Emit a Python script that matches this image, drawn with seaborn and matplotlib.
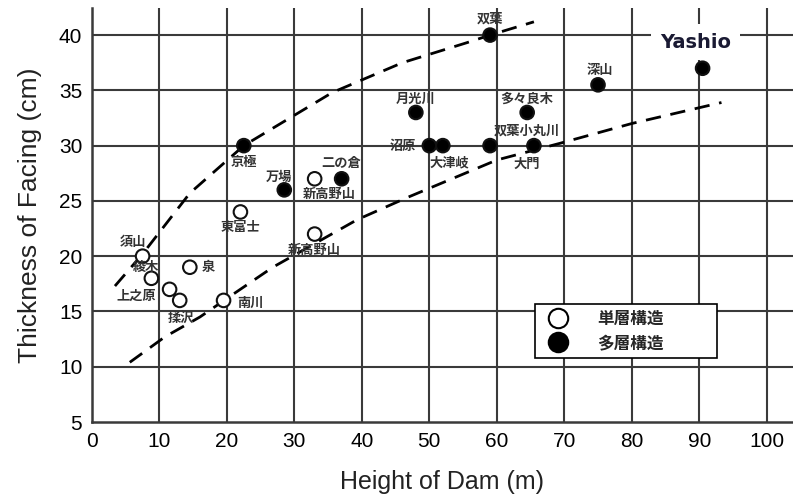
import matplotlib
matplotlib.use("Agg")
import matplotlib.pyplot as plt
import seaborn as sns
import pandas as pd
from matplotlib.lines import Line2D

# ---------------- data ----------------
single_names = ['新高野山', '東富士', '新高野山', '須山', '綾木', '泉', '上之原', '揉沢', '南川']
single_height = [33, 22, 33, 7.5, 8.8, 14.5, 11.5, 13, 19.5]
single_thick = [27, 24, 22, 20, 18, 19, 17, 16, 16]

multi_names = ['双葉', 'Yashio', '深山', '月光川', '多々良木', '沼原', '大津岐', '双葉小丸川',
               '大門', '京極', '万場', '二の倉']
multi_height = [59, 90.5, 75, 48, 64.5, 50, 52, 59, 65.5, 22.5, 28.5, 37]
multi_thick = [40, 37, 35.5, 33, 33, 30, 30, 30, 30, 30, 26, 27]

upper_x = [3.4, 7.5, 14.5, 22.5, 35.6, 46, 55.5, 59, 65.5]
upper_y = [17.3, 20.2, 25.7, 30, 34.8, 37.5, 39.3, 40, 41.2]
lower_x = [5.6, 10.8, 16, 21.5, 26.8, 39.3, 46.7, 60, 69.3, 80, 93.3]
lower_y = [10.4, 12.7, 14.5, 16.8, 19, 23.3, 25.3, 28.7, 30.2, 32, 33.9]

legend_labels = ['単層構造', '多層構造']
x_ticks = [0, 10, 20, 30, 40, 50, 60, 70, 80, 90, 100]
y_ticks = [5, 10, 15, 20, 25, 30, 35, 40]

# label offsets (pixels) -- layout only
single_off = [(15, -15), (0, -15), (0, -16), (-10, 14), (-5, 11), (18, 0), (-33, -6), (1, -17), (27, -2)]
multi_off = [(0, 17), (-7, 26), (2, 15), (0, 14), (0, 14), (-26, 0), (7, -17), (37, 15),
             (-7, -18), (0, -16), (-5, 13), (0, 16)]

df = pd.DataFrame({
    'h': single_height + multi_height,
    't': single_thick + multi_thick,
    'kind': [legend_labels[0]] * len(single_height) + [legend_labels[1]] * len(multi_height),
})

# ---------------- figure ----------------
sns.set_style("white")
plt.rcParams['font.family'] = ['Liberation Sans', 'DejaVu Sans']
fig = plt.figure(figsize=(7.93, 5.01), dpi=100)
ax = fig.add_axes([92 / 793, 79 / 501, 701 / 793, 414 / 501])

ax.set_xlim(0, 103.9)
ax.set_ylim(5, 42.45)

grid_c = '#3a3a3a'
for xv in x_ticks[1:]:
    ax.axvline(xv, color=grid_c, lw=1.5, zorder=0)
for yv in y_ticks[1:]:
    ax.axhline(yv, color=grid_c, lw=1.5, zorder=0)

for s in ['top', 'right']:
    ax.spines[s].set_visible(False)
for s in ['left', 'bottom']:
    ax.spines[s].set_color(grid_c)
    ax.spines[s].set_linewidth(1.8)

# dashed envelope curves
sns.lineplot(x=upper_x, y=upper_y, ax=ax, sort=False, estimator=None, color='black',
             lw=2.0, dashes=False, linestyle=(0, (5.5, 3.5)), zorder=2)
sns.lineplot(x=lower_x, y=lower_y, ax=ax, sort=False, estimator=None, color='black',
             lw=2.0, dashes=False, linestyle=(0, (5.5, 3.5)), zorder=2)

# points
sns.scatterplot(data=df, x='h', y='t', hue='kind', style='kind',
                palette={legend_labels[0]: 'white', legend_labels[1]: 'black'},
                markers={legend_labels[0]: 'o', legend_labels[1]: 'o'},
                edgecolor='black', linewidth=1.5, s=95, ax=ax, legend=False, zorder=3)
ax.collections[-1].set_edgecolor('#111111')

jp = ['Noto Sans CJK JP', 'DejaVu Sans']
lab_c = '#333333'
for name, x, y, off in zip(single_names, single_height, single_thick, single_off):
    ax.annotate(name, (x, y), xytext=off, textcoords='offset pixels', ha='center', va='center',
                fontsize=9.5, fontweight='bold', family=jp, color=lab_c, zorder=4)
for name, x, y, off in zip(multi_names, multi_height, multi_thick, multi_off):
    if name == 'Yashio':
        ax.annotate(name, (x, y), xytext=off, textcoords='offset pixels', ha='center', va='center',
                    fontsize=14, fontweight='bold', family=['DejaVu Sans'],
                    color='#1a1a33', zorder=4,
                    bbox=dict(boxstyle='square,pad=0.45', fc='white', ec='none'))
    else:
        ax.annotate(name, (x, y), xytext=off, textcoords='offset pixels', ha='center', va='center',
                    fontsize=9.5, fontweight='bold', family=jp, color=lab_c, zorder=4)

ax.set_xticks(x_ticks)
ax.set_yticks(y_ticks)
ax.tick_params(axis='both', length=0, labelsize=15, colors='black', pad=7)
ax.set_xlabel('Height of Dam (m)', fontsize=18, color='#222222', labelpad=14)
ax.set_ylabel('Thickness of Facing (cm)', fontsize=19, color='#222222', labelpad=12)

handles = [Line2D([], [], ls='none', marker='o', ms=14, mfc='white', mec='black', mew=1.5),
           Line2D([], [], ls='none', marker='o', ms=14, mfc='black', mec='black', mew=1.5)]
leg = ax.legend(handles, legend_labels, loc='lower left', bbox_to_anchor=(0.632, 0.155, 0.26, 0.145),
                mode='expand', borderaxespad=0, frameon=True, fancybox=False, edgecolor='black',
                framealpha=1, prop={'family': jp, 'size': 12, 'weight': 'bold'}, handletextpad=1.4,
                borderpad=0.35, labelspacing=0.35)
leg.get_frame().set_linewidth(1.2)
leg.set_zorder(5)

fig.savefig('out.png', dpi=100)
